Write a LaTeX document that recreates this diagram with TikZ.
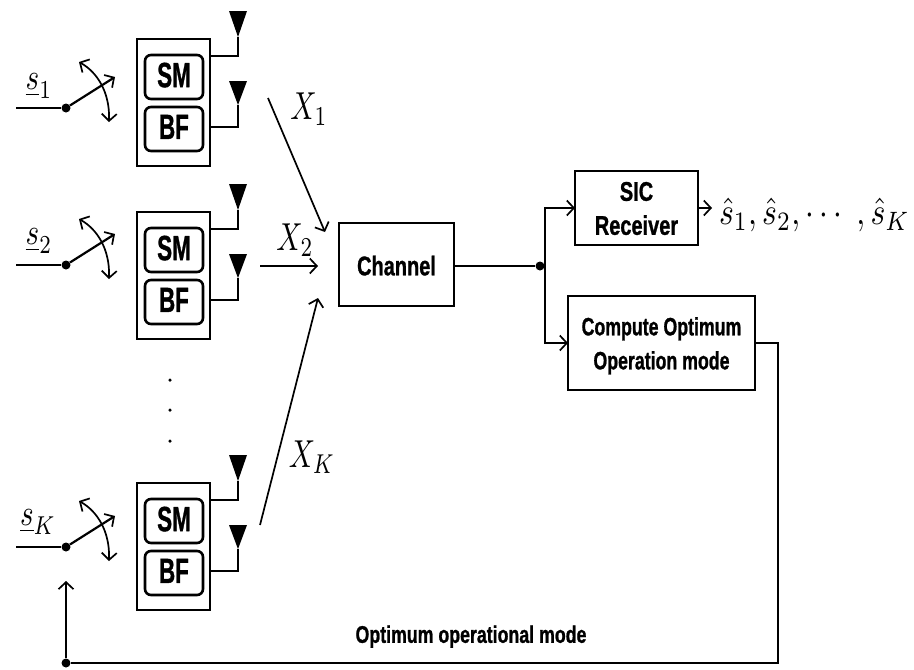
\documentclass[tikz,border=0pt]{standalone}
\usepackage{graphicx}
\usepackage{fontspec}
\setmainfont[BoldFeatures={FakeBold=1.2}]{Liberation Sans}
\usetikzlibrary{arrows.meta,calc}
\newcommand{\bt}[3]{\scalebox{#2}[1]{\fontsize{#1}{34}\selectfont\bfseries\begin{tabular}{@{}c@{}}#3\end{tabular}}}
\newcommand{\mth}[3]{\scalebox{#1}[#2]{$#3$}}
\tikzset{
  x=1pt,y=-1pt,
  block/.style={draw,line width=2.6pt,inner sep=0pt,outer sep=0pt},
  inner box/.style={draw,line width=2.6pt,rounded corners=6pt,minimum width=58pt,minimum height=44pt,inner sep=0pt,outer sep=0pt},
  tip/.style={-{Straight Barb[length=7pt,width=15pt,line width=1.7pt]}},
  twotip/.style={{Straight Barb[length=7pt,width=15pt,line width=1.7pt]}-{Straight Barb[length=7pt,width=15pt,line width=1.7pt]}},
  conn/.style={line width=1.7pt},
  wire/.style={line width=2.2pt},
  dot/.style={circle,fill=black,inner sep=0pt,minimum size=9pt},
  ant/.style={fill=black},
  lbl/.style={inner sep=0pt,outer sep=0pt},
}
\begin{document}
\begin{tikzpicture}
\useasboundingbox (0,0) rectangle (914,670);
\foreach \n/\bo/\so/\lab/\lx/\ly in {1/0/0/{\underline{s}_1}/39/86, 2/173/157/{\underline{s}_2}/39/241, 3/444/439/{\underline{s}_K}/38/522}{
  \node[block,minimum width=73pt,minimum height=127pt] (T\n) at (173.5,102.5+\bo) {};
  \node[inner box,label={[lbl,yshift=-3pt]center:\bt{35}{0.64}{SM}}] (SM\n) at (174,77+\bo) {};
  \node[inner box,label={[lbl,yshift=-3pt]center:\bt{35}{0.64}{BF}}] (BF\n) at (174,129+\bo) {};
  \coordinate (A\n) at (238,37+\bo);
  \coordinate (B\n) at (238,105+\bo);
  \coordinate (AL\n) at (T\n.east |- 0,56+\bo);
  \coordinate (BL\n) at (T\n.east |- 0,127+\bo);
  \fill[ant] (229,11+\bo) -- (247,11+\bo) -- (A\n) -- cycle;
  \fill[ant] (229,81+\bo) -- (247,81+\bo) -- (B\n) -- cycle;
  \draw[conn] (A\n) -- (238,56+\bo) -- (AL\n);
  \draw[conn] (B\n) -- (238,127+\bo) -- (BL\n);
  \node[dot] (D\n) at (66,108+\so) {};
  \coordinate (IN\n) at (16,108+\so);
  \coordinate (ARM\n) at (115,77+\so);
  \coordinate (AT\n) at (79,62+\so);
  \coordinate (AB\n) at (109,122+\so);
  \draw[wire] (IN\n) -- (D\n);
  \draw[wire,tip] (D\n) -- (ARM\n);
  \draw[conn,twotip] (AT\n) .. controls (97,72+\so) and (110,92+\so) .. (AB\n);
  \node[lbl] at (\lx,\ly) {\mth{2.9}{3.7}{\lab}};
}
\node[dot,minimum size=3.5pt] (v1) at (170,380) {};
\node[dot,minimum size=3.5pt] (v2) at (170,410) {};
\node[dot,minimum size=3.5pt] (v3) at (170,441) {};
\node[block,minimum width=115pt,minimum height=83pt,label={[lbl,yshift=-4pt]center:\bt{27}{0.74}{Channel}}] (ch) at (396.5,264.5) {};
\node[block,minimum width=123pt,minimum height=74pt,label={[lbl,yshift=-3pt]center:\bt{27}{0.74}{SIC\\Receiver}}] (sic) at (636.5,208) {};
\node[block,minimum width=187pt,minimum height=94pt,label={[lbl,yshift=-2.5pt]center:\bt{25}{0.71}{Compute Optimum\\Operation mode}}] (comp) at (661.5,343) {};
\coordinate (x1s) at (268,98);
\coordinate (x1e) at (325,232);
\coordinate (x2s) at (260,266);
\coordinate (x2e) at (318,266);
\coordinate (xks) at (260,525);
\coordinate (xke) at (318,298);
\draw[conn,tip] (x1s) -- (x1e);
\draw[conn,tip] (x2s) -- (x2e);
\draw[conn,tip] (xks) -- (xke);
\node[lbl] (X1) at (309,109) {\mth{2.9}{3.9}{X_1}};
\node[lbl] (X2) at (295,240) {\mth{2.9}{3.9}{X_2}};
\node[lbl] (XK) at (312,457) {\mth{2.9}{3.9}{X_K}};
\node[dot] (j) at (540,266) {};
\coordinate (b1) at (545,266);
\draw[wire] (ch.east |- j) -- (j) -- (b1);
\draw[conn,tip] (b1) -- (545,208) -- (sic.west);
\draw[conn,tip] (b1) -- (545,343) -- (comp.west);
\coordinate (oe) at (712,208);
\draw[conn,tip] (sic.east) -- (oe);
\node[lbl,anchor=west] (out) at (719,215) {\mth{3.17}{3.8}{\hat{s}_1,\hat{s}_2,\cdots\ ,\hat{s}_K}};
\node[dot] (fb) at (66,663) {};
\coordinate (c1) at (778,343);
\coordinate (c2) at (778,663);
\draw[wire] (comp.east) -- (c1) -- (c2) -- (fb);
\draw[conn,tip] (fb) -- (66,581);
\node[lbl] (mode) at (471,636) {\bt{24}{0.74}{Optimum operational mode}};
\end{tikzpicture}
\end{document}
